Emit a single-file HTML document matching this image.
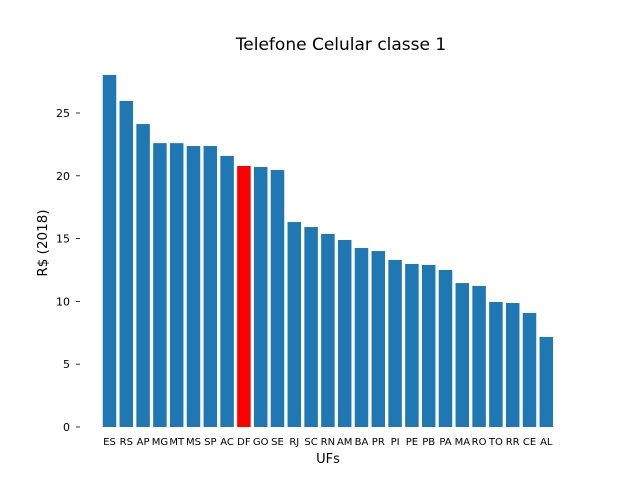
<!DOCTYPE html>
<html><head><meta charset="utf-8"><style>
body{margin:0;background:#fff}
svg text{font-family:"DejaVu Sans","Liberation Sans",sans-serif;fill:#000}
</style></head><body>
<svg id="chart" width="640" height="480" viewBox="0 0 640 480">
<rect width="640" height="480" fill="#fff"/>
<text x="341" y="50" text-anchor="middle" font-size="17">Telefone Celular classe 1</text>
<text x="328" y="463" text-anchor="middle" font-size="13">UFs</text>
<text transform="translate(47,243) rotate(-90)" text-anchor="middle" font-size="13.5">R$ (2018)</text>
<g id="bars"></g><g id="xt"></g><g id="yt"></g>
</svg>
<script>
const categories=["ES","RS","AP","MG","MT","MS","SP","AC","DF","GO","SE","RJ","SC","RN","AM","BA","PR","PI","PE","PB","PA","MA","RO","TO","RR","CE","AL"];
const values=[28.03,25.96,24.12,22.6,22.6,22.37,22.37,21.58,20.78,20.7,20.46,16.32,15.92,15.37,14.89,14.25,14.01,13.3,12.98,12.9,12.5,11.46,11.23,9.95,9.87,9.08,7.17];
const highlight="DF";
const yTicks=[0,5,10,15,20,25];
const NS="http://www.w3.org/2000/svg";
const y0=427,pxPerUnit=12.56,x0=109.5,step=16.8,bw=13.5;
const yS=v=>y0-v*pxPerUnit;
const xS=i=>x0+i*step;
const bars=document.getElementById('bars'),xt=document.getElementById('xt'),yt=document.getElementById('yt');
categories.forEach((c,i)=>{
 const r=document.createElementNS(NS,'rect');
 r.setAttribute('x',xS(i)-bw/2);r.setAttribute('width',bw);
 r.setAttribute('y',yS(values[i]));r.setAttribute('height',y0-yS(values[i]));
 r.setAttribute('fill',c===highlight?'#ff0000':'#1f77b4');
 
 
 bars.appendChild(r);
 const t=document.createElementNS(NS,'text');
 t.setAttribute('x',xS(i));t.setAttribute('y',445);t.setAttribute('text-anchor','middle');t.setAttribute('font-size','10');
 t.textContent=c;
 
 
 xt.appendChild(t);
});
yTicks.forEach(v=>{
 const l=document.createElementNS(NS,'line');
 l.setAttribute('x1',76);l.setAttribute('x2',80);l.setAttribute('y1',yS(v));l.setAttribute('y2',yS(v));l.setAttribute('stroke','#000');l.setAttribute('stroke-width','0.8');
 
 
 yt.appendChild(l);
 const t=document.createElementNS(NS,'text');
 t.setAttribute('x',70);t.setAttribute('y',yS(v)+4);t.setAttribute('text-anchor','end');t.setAttribute('font-size','11');
 t.textContent=v;
 
 
 yt.appendChild(t);
});
</script>
</body></html>
